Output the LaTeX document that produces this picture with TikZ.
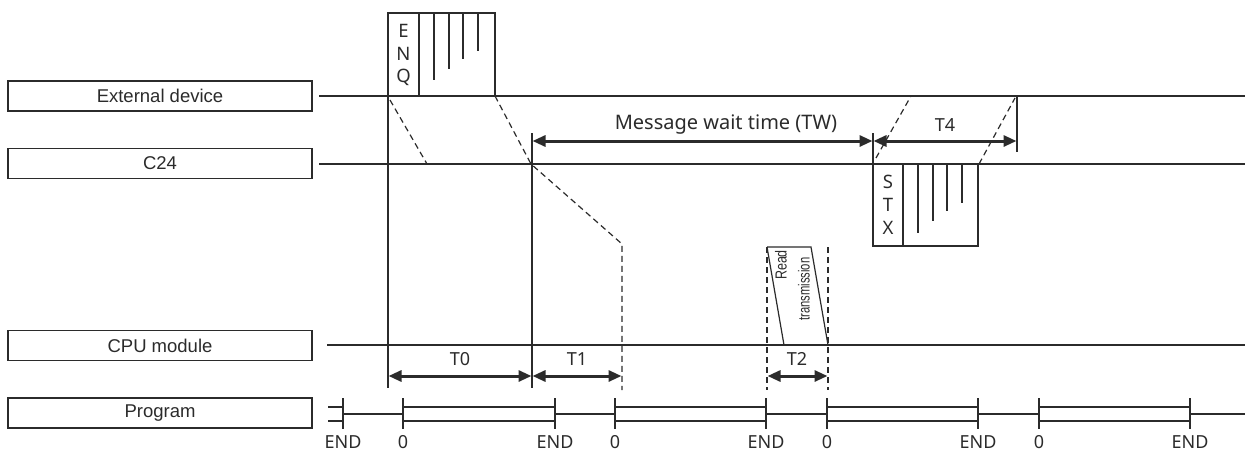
\documentclass[tikz,border=0pt]{standalone}
\usepackage{fontspec}
\setmainfont{Noto Sans}
\newfontfamily\arialfont{Liberation Sans}
\usetikzlibrary{arrows.meta}
\definecolor{ink}{HTML}{2B2B2B}
\tikzset{
  lbl/.style={draw=ink, line width=1.4pt, minimum width=304pt, minimum height=30pt, inner sep=0pt, font=\arialfont\fontsize{18.5}{18.5}\selectfont, text=ink},
  tl/.style={draw=ink, line width=1.2pt},
  dl/.style={draw=ink, line width=1.2pt, dash pattern=on 6pt off 4pt},
  dim/.style={draw=ink, line width=3pt, {Triangle[length=13pt,width=11pt]}-{Triangle[length=13pt,width=11pt]}, shorten <=0.5pt, shorten >=0.5pt},
  txt/.style={font=\fontsize{18}{18}\selectfont, text=ink, inner sep=0pt},
  ltr/.style={font=\fontsize{18.5}{18.5}\selectfont, text=ink, inner sep=0pt},
  rtx/.style={rotate=90, font=\arialfont\fontsize{16}{16}\selectfont, text=ink, inner sep=0pt},
  tick/.style={draw=ink, line width=1.2pt}
}
\begin{document}
\begin{tikzpicture}[x=1pt,y=-1pt]
\useasboundingbox (0,0) rectangle (1245,455);
% label boxes
\node[lbl] (ext) at (160,96) {External device};
\node[lbl] (c24) at (160,163.5) {C24};
\node[lbl] (cpu) at (160,345.5) {CPU module};
\node[lbl] (prg) at (160,413) {Program};
% time lines
\coordinate (extS) at (319,96); \coordinate (extE) at (1245,96);
\coordinate (c24S) at (319,164); \coordinate (c24E) at (1245,164);
\coordinate (cpuS) at (327,345); \coordinate (cpuE) at (1245,345);
\draw[tl] (extS) -- (extE);
\draw[tl] (c24S) -- (c24E);
\draw[tl] (cpuS) -- (cpuE);
% ENQ frame
\draw[tl] (388,13) rectangle (495,96);
\draw[tl] (419,13) -- (419,96);
\foreach \x/\b in {434/80,449/69,463/59,478/51} \draw[tl] (\x,13) -- (\x,\b);
\node[ltr] (e1) at (403.5,31) {E};
\node[ltr] (e2) at (403.5,54) {N};
\node[ltr] (e3) at (403.5,77) {Q};
% dashed transfers
\draw[dl] (390,100) -- (427,164);
\draw[dl] (495,96) -- (531,164) -- (622,244) -- (622,390);
% solid verticals
\draw[tl] (388,96) -- (388,388);
\draw[tl] (532,133) -- (532,388);
% message wait time
\coordinate (mw1) at (532,141); \coordinate (mw2) at (873,141);
\draw[dim] (mw1) -- (mw2);
\node[txt, font=\fontsize{20}{20}\selectfont] (mwt) at (726,125) {Message wait time (TW)};
\coordinate (t41) at (873,141); \coordinate (t42) at (1017,141);
\draw[dim] (t41) -- (t42);
\node[txt] (t4) at (945,125) {T4};
\draw[tl] (873,133) -- (873,164);
\draw[tl] (1017,96) -- (1017,152);
% STX frame
\draw[tl] (873,164) rectangle (978,246);
\draw[tl] (903,164) -- (903,246);
\foreach \x/\b in {918/233,933/221,947/211,962/203} \draw[tl] (\x,164) -- (\x,\b);
\node[ltr] (s1) at (888,182) {S};
\node[ltr] (s2) at (888,205) {T};
\node[ltr] (s3) at (888,228) {X};
\draw[dl] (876,158) -- (911,96);
\draw[dl] (979,164) -- (1015,98);
% read transmission
\draw[tl] (767,247) -- (811,247) -- (828,345) -- (784,345);
\draw[tl] (767,247) -- (784,345);
\draw[dl] (767,247) -- (767,390);
\draw[dl] (828,247) -- (828,390);
\node[rtx] (rt1) at (781,265) {\scalebox{0.78}[1]{Read}};
\node[rtx] (rt2) at (804,289) {\scalebox{0.7}[1]{transmission}};
% T0 T1 T2
\draw[dim] (388,376) -- (532,376);
\node[txt] (t0) at (460,359) {T0};
\draw[dim] (532,376) -- (622,376);
\node[txt] (t1) at (577,359) {T1};
\draw[dim] (767,376) -- (828,376);
\node[txt] (t2) at (797,359) {T2};
% program scan
\draw[tl] (328,407) -- (343,407);
\draw[tl] (328,421) -- (343,421);
\foreach \a/\b in {343/403,555/615,766/827,978/1039,1190/1245} \draw[tl] (\a,414) -- (\b,414);
\foreach \a/\b in {403/555,615/766,827/978,1039/1190} {\draw[tl] (\a,407) -- (\b,407); \draw[tl] (\a,421) -- (\b,421);}
\foreach \x in {343,403,555,615,766,827,978,1039,1190} \draw[tick] (\x,398) -- (\x,429);
\foreach \x/\t in {343/END,403/0,555/END,615/0,766/END,827/0,978/END,1039/0,1190/END}
  \node[txt] at (\x,442) {\t};
\end{tikzpicture}
\end{document}
